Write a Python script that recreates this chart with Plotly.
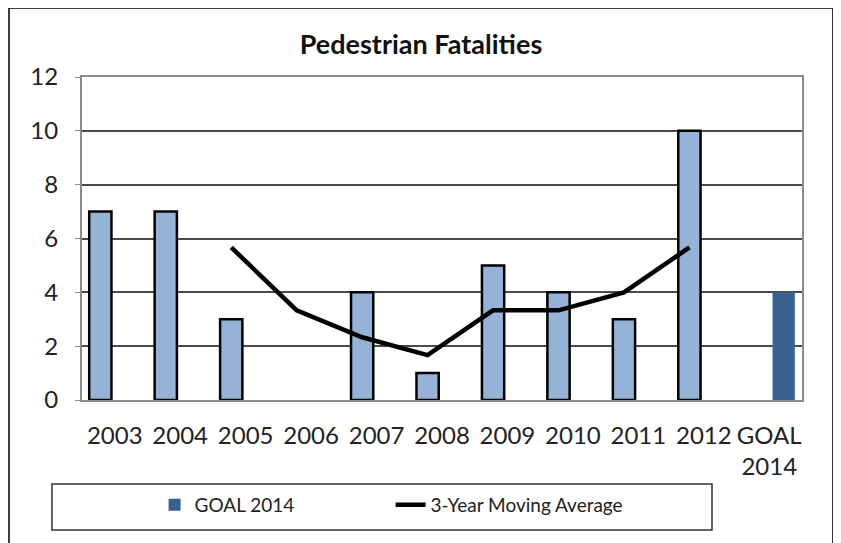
import plotly.graph_objects as go

# Values
years = ["2003", "2004", "2005", "2006", "2007", "2008", "2009", "2010", "2011", "2012"]
fatalities = [7, 7, 3, 0, 4, 1, 5, 4, 3, 10]

goal_label = "GOAL<br>2014"
goal_value = [4]

avg_years = ["2005", "2006", "2007", "2008", "2009", "2010", "2011", "2012"]
moving_avg = [5.67, 3.33, 2.33, 1.67, 3.33, 3.33, 4.0, 5.67]

categories = years + [goal_label]
pos = {c: i for i, c in enumerate(categories)}

LIGHT = "#95B3D7"
DARK = "#386192"
GRID = "#4a4a4a"
FRAME = "#8c8c8c"
FONT = "Lato, 'Open Sans', sans-serif"

fig = go.Figure()

# Bars sit left of each category slot, goal bar on the right (Excel-style grouping)
fig.add_trace(go.Bar(
    x=[pos[y] - 0.22 for y in years], y=fatalities,
    width=0.34, name="Fatalities", showlegend=False,
    marker=dict(color=LIGHT,
                line=dict(color="black", width=[2.5 if v else 0 for v in fatalities])),
))
fig.add_trace(go.Bar(
    x=[pos[goal_label] + 0.22], y=goal_value,
    width=0.34, name="GOAL 2014",
    marker=dict(color=DARK, line=dict(width=0)),
))
fig.add_trace(go.Scatter(
    x=[pos[y] - 0.22 for y in avg_years], y=moving_avg,
    mode="lines", name="3-Year Moving Average",
    line=dict(color="black", width=4.5),
))

fig.update_xaxes(
    range=[-0.5, 10.5],
    tickvals=list(range(len(categories))), ticktext=categories,
    showgrid=False, zeroline=False,
    showline=True, linecolor=FRAME, linewidth=2, mirror=True,
    tickfont=dict(size=24, color="#222"),
    ticklabelstandoff=13,
)
fig.update_yaxes(
    range=[0, 12], dtick=2,
    showgrid=True, gridcolor=GRID, gridwidth=1.5, zeroline=False,
    showline=True, linecolor=FRAME, linewidth=2, mirror=True,
    ticks="outside", ticklen=5, tickcolor=FRAME,
    tickfont=dict(size=24, color="#222"),
    ticklabelstandoff=12,
)

# page body adds an 8px margin, so the figure is 8px smaller and shifted up/left
fig.update_layout(
    width=833, height=535, autosize=False,
    margin=dict(l=74, r=39, t=69, b=143),
    paper_bgcolor="white", plot_bgcolor="white",
    font=dict(family=FONT, color="#222"),
    title=dict(
        text="<b>Pedestrian Fatalities</b>",
        x=413 / 833, xref="container", xanchor="center",
        y=1 - 37 / 535, yref="container", yanchor="middle",
        font=dict(size=27, color="#111"),
    ),
    legend=dict(
        orientation="h", x=0.1008, xanchor="left", y=-0.325, yanchor="middle",
        bgcolor="rgba(0,0,0,0)", entrywidth=191,
        font=dict(size=19, color="#222"),
    ),
    shapes=[
        # outer chart frame (bottom edge runs off the picture)
        dict(type="rect", xref="paper", yref="paper",
             x0=-0.1014, x1=1.043, y0=-0.46, y1=1.2136,
             line=dict(color="black", width=1.5), layer="below"),
        # legend box
        dict(type="rect", xref="paper", yref="paper",
             x0=-0.0417, x1=0.875, y0=-0.4025, y1=-0.260,
             line=dict(color="#333", width=1.5)),
    ],
)

fig.write_html("out.html")
